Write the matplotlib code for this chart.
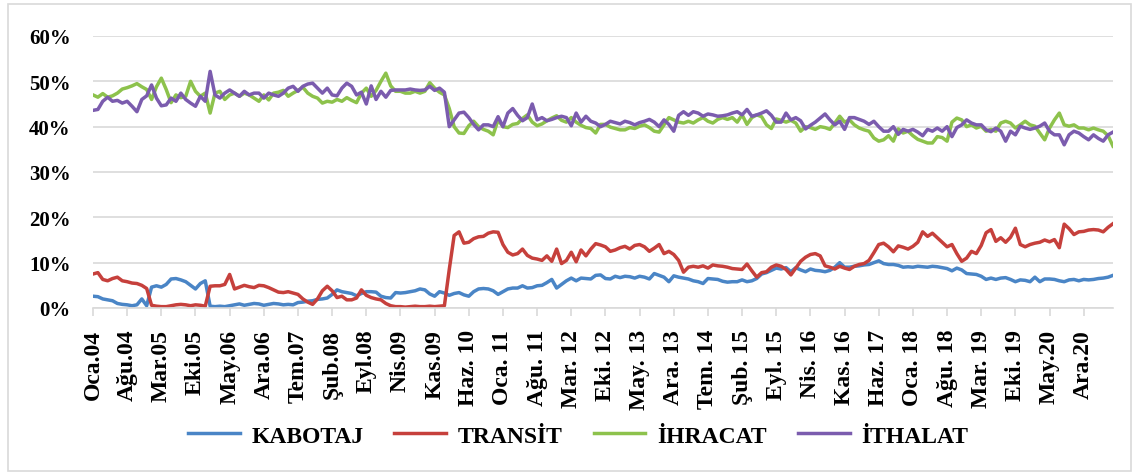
import numpy as np
import matplotlib.pyplot as plt

# monthly shares (%), Oca.04 .. Haz.21, one row per year
kabotaj = [
    2.6, 2.5, 2.0, 1.8, 1.6, 1.0, 0.8, 0.7, 0.5, 0.7, 2.0, 0.5,
    4.6, 4.9, 4.6, 5.2, 6.4, 6.5, 6.2, 5.8, 5.0, 4.2, 5.4, 6.0,
    0.4, 0.3, 0.4, 0.3, 0.5, 0.7, 0.9, 0.6, 0.8, 1.0, 0.9, 0.6,
    0.8, 1.0, 0.9, 0.7, 0.8, 0.7, 1.2, 1.3, 1.5, 1.6, 1.9, 2.0,
    2.2, 3.0, 4.0, 3.6, 3.4, 3.2, 2.7, 3.2, 3.6, 3.6, 3.5, 2.6,
    2.3, 2.2, 3.4, 3.3, 3.4, 3.6, 3.8, 4.2, 4.0, 3.1, 2.6, 3.6,
    3.3, 2.8, 3.2, 3.4, 2.9, 2.6, 3.6, 4.2, 4.3, 4.2, 3.8, 3.0,
    3.6, 4.2, 4.4, 4.4, 4.9, 4.4, 4.5, 4.9, 5.0, 5.6, 6.3, 4.4,
    5.2, 6.0, 6.6, 6.0, 6.6, 6.5, 6.4, 7.2, 7.3, 6.5, 6.4, 7.0,
    6.7, 7.0, 6.9, 6.6, 7.0, 6.8, 6.4, 7.6, 7.2, 6.8, 5.8, 7.1,
    6.8, 6.6, 6.4, 6.0, 5.8, 5.4, 6.5, 6.4, 6.3, 5.9, 5.7, 5.8,
    5.8, 6.2, 5.8, 6.0, 6.5, 7.5, 7.8, 8.3, 8.8, 8.6, 8.9, 8.0,
    8.9, 8.4, 8.0, 8.6, 8.3, 8.2, 8.0, 8.3, 9.0, 10.0, 9.0, 9.0,
    9.2, 9.3, 9.5, 9.6, 10.0, 10.4, 9.8, 9.6, 9.6, 9.4, 9.0, 9.1,
    9.0, 9.2, 9.1, 9.0, 9.2, 9.1, 8.9, 8.7, 8.2, 8.8, 8.4, 7.6,
    7.5, 7.4, 7.0, 6.3, 6.6, 6.3, 6.6, 6.7, 6.3, 5.8, 6.2, 6.1,
    5.8, 6.8, 5.8, 6.4, 6.4, 6.3, 6.0, 5.8, 6.2, 6.3, 6.0, 6.3,
    6.2, 6.3, 6.5, 6.6, 6.8, 7.2,
]

transit = [
    7.5, 7.8, 6.3, 6.0, 6.5, 6.8, 6.0, 5.8, 5.5, 5.4, 5.0, 4.3,
    0.6, 0.4, 0.3, 0.3, 0.5, 0.7, 0.8, 0.7, 0.5, 0.7, 0.6, 0.4,
    4.8, 4.9, 4.9, 5.2, 7.4, 4.2, 4.6, 5.0, 4.7, 4.5, 5.0, 4.9,
    4.5, 4.0, 3.5, 3.4, 3.6, 3.3, 3.0, 2.0, 1.3, 0.8, 2.0, 3.8,
    4.8, 3.8, 2.3, 2.6, 1.8, 1.8, 2.2, 4.0, 2.8, 2.3, 2.0, 1.8,
    1.0, 0.5, 0.3, 0.3, 0.2, 0.3, 0.4, 0.3, 0.3, 0.4, 0.3, 0.4,
    0.5, 8.5, 16.0, 16.8, 14.3, 14.5, 15.3, 15.7, 15.8, 16.5, 16.8, 16.7,
    14.0, 12.3, 11.7, 12.0, 13.0, 11.6, 11.0, 10.8, 10.5, 11.5, 10.3, 13.0,
    9.8, 10.5, 12.3, 10.2, 12.8, 11.5, 13.0, 14.2, 13.9, 13.5, 12.5, 12.8,
    13.3, 13.6, 13.0, 13.8, 14.0, 13.5, 12.5, 13.2, 14.0, 12.0, 12.5, 11.8,
    10.5, 7.9, 9.0, 9.2, 9.0, 9.3, 8.8, 9.5, 9.3, 9.2, 9.0, 8.7,
    8.6, 8.5, 9.7, 8.2, 6.8, 7.8, 8.0, 9.0, 9.5, 9.2, 8.5, 7.3,
    8.8, 10.3, 11.2, 11.8, 12.0, 11.5, 9.3, 9.0, 8.6, 9.2, 8.8, 8.5,
    9.2, 9.6, 9.8, 10.5, 12.2, 14.0, 14.3, 13.5, 12.4, 13.7, 13.4, 13.0,
    13.6, 14.5, 16.8, 15.8, 16.5, 15.5, 14.5, 13.5, 14.0, 12.0, 10.3, 11.0,
    12.5, 12.0, 13.8, 16.6, 17.3, 14.7, 15.5, 14.5, 15.6, 17.6, 14.0, 13.5,
    14.0, 14.3, 14.5, 15.0, 14.6, 15.1, 13.3, 18.5, 17.5, 16.2, 16.8, 16.9,
    17.2, 17.3, 17.2, 16.8, 17.8, 18.6,
]

ihracat = [
    47.0, 46.5, 47.3, 46.5, 46.8, 47.4, 48.3, 48.6, 49.0, 49.5, 48.8, 48.2,
    46.0, 48.8, 50.7, 48.2, 45.3, 47.0, 46.4, 46.7, 50.0, 47.8, 46.7, 47.4,
    43.0, 47.4, 47.8, 46.0, 47.0, 47.4, 46.7, 47.4, 47.0, 46.3, 45.6, 47.0,
    45.9, 47.4, 47.6, 48.0, 46.7, 47.4, 48.0, 48.7, 47.4, 46.7, 46.3, 45.2,
    45.6, 45.4, 46.0, 45.6, 46.4, 45.8, 45.3, 47.4, 48.5, 46.7, 48.0, 50.0,
    51.8, 49.0, 47.8, 47.8, 47.4, 47.4, 47.8, 47.4, 47.8, 49.7, 48.5, 47.6,
    47.0, 44.0, 40.0, 38.6, 38.5, 40.2, 41.2, 40.0, 39.4, 39.0, 38.2, 41.5,
    40.0, 39.8, 40.5, 40.7, 41.8, 42.6, 41.0, 40.2, 40.6, 41.3, 41.9, 42.4,
    41.4, 41.0, 42.0, 41.0, 40.3, 39.8, 39.6, 38.6, 40.5, 40.5, 39.9, 39.6,
    39.3, 39.3, 39.8, 39.6, 40.1, 40.4, 39.8, 39.0, 38.8, 40.4, 42.0, 41.5,
    41.0, 40.8, 41.2, 40.8, 41.5, 42.0, 41.2, 40.8, 41.6, 42.0, 41.6, 42.0,
    41.0, 42.6, 40.5, 42.0, 42.6, 42.2, 40.4, 39.6, 41.7, 41.4, 41.0, 41.4,
    40.8, 39.0, 40.0, 39.8, 39.4, 40.0, 39.8, 39.4, 40.8, 42.3, 41.0, 41.5,
    40.4, 39.7, 39.3, 39.0, 37.5, 36.8, 37.1, 38.0, 36.8, 39.5, 38.6, 39.0,
    38.0, 37.2, 36.8, 36.4, 36.4, 37.8, 37.6, 36.8, 41.0, 41.9, 41.5, 40.0,
    40.4, 39.7, 40.1, 39.0, 39.4, 39.0, 40.8, 41.2, 40.8, 39.7, 40.4, 41.2,
    40.4, 40.1, 38.6, 37.1, 39.7, 41.5, 43.0, 40.4, 40.1, 40.4, 39.7, 39.7,
    39.3, 39.7, 39.3, 39.0, 38.0, 35.7,
]

ithalat = [
    43.6, 43.8, 45.6, 46.5, 45.6, 45.8, 45.2, 45.6, 44.5, 43.3, 46.0, 46.8,
    49.2, 46.3, 44.6, 44.8, 46.3, 45.6, 47.4, 46.0, 45.2, 44.5, 46.7, 45.6,
    52.2, 47.0, 46.3, 47.4, 48.1, 47.4, 46.7, 47.8, 47.0, 47.4, 47.4, 46.3,
    47.4, 47.0, 46.7, 47.4, 48.5, 48.9, 47.8, 48.9, 49.4, 49.6, 48.5, 47.4,
    48.5, 47.0, 46.8, 48.5, 49.6, 48.9, 47.0, 47.6, 45.0, 49.0, 46.0, 47.8,
    46.5, 48.0, 48.1, 48.1, 48.1, 48.3, 48.1, 48.0, 48.1, 48.9, 48.0, 48.5,
    47.6, 40.0, 41.5, 43.0, 43.2, 42.0, 40.5, 39.3, 40.4, 40.4, 40.0, 42.2,
    40.0, 43.0, 44.0, 42.5, 41.3, 42.0, 45.0, 41.5, 42.0, 41.3, 41.6, 42.0,
    42.3, 42.0, 40.2, 43.0, 41.0, 42.3, 41.2, 40.8, 40.0, 40.5, 41.2, 40.9,
    40.6, 41.2, 40.9, 40.4, 40.9, 41.2, 41.6, 41.0, 40.0, 41.5, 40.5, 39.0,
    42.5, 43.3, 42.5, 43.3, 43.0, 42.3, 42.8, 42.6, 42.3, 42.4, 42.6, 43.0,
    43.3, 42.6, 43.8, 42.3, 42.6, 43.0, 43.5, 42.5, 41.0, 41.0, 43.0, 41.5,
    42.0, 41.3, 39.5, 40.3, 41.0, 41.9, 42.8, 41.5, 40.4, 41.2, 39.4, 42.0,
    42.0, 41.6, 41.2, 40.5, 41.2, 40.0, 39.0, 39.0, 40.0, 38.3, 39.4, 39.0,
    39.4, 38.8, 38.0, 39.4, 39.0, 39.7, 39.0, 40.0, 37.8, 39.8, 40.4, 41.5,
    40.8, 40.4, 40.4, 39.3, 38.9, 39.7, 39.0, 36.8, 39.0, 38.2, 40.1, 39.7,
    39.4, 39.7, 40.1, 40.8, 39.0, 38.2, 38.2, 36.0, 38.2, 39.0, 38.6, 37.8,
    37.1, 38.2, 37.4, 36.8, 38.2, 38.8,
]

tick_labels = [
    'Oca.04', 'Ağu.04', 'Mar.05', 'Eki.05', 'May.06', 'Ara.06', 'Tem.07',
    'Şub.08', 'Eyl.08', 'Nis.09', 'Kas.09', 'Haz. 10', 'Oca. 11', 'Ağu. 11',
    'Mar. 12', 'Eki. 12', 'May. 13', 'Ara. 13', 'Tem. 14', 'Şub. 15',
    'Eyl. 15', 'Nis. 16', 'Kas. 16', 'Haz. 17', 'Oca. 18', 'Ağu. 18',
    'Mar. 19', 'Eki. 19', 'May.20', 'Ara.20',
]
series_names = ['KABOTAJ', 'TRANSİT', 'İHRACAT', 'İTHALAT']
colors = ['#4A85C6', '#C6403C', '#8DC24C', '#7B5CAE']

plt.rcParams['font.family'] = ['Liberation Serif', 'DejaVu Serif']
plt.rcParams['font.weight'] = 'bold'

W, H = 1139, 477
fig = plt.figure(figsize=(W / 100, H / 100), dpi=100)
ax = fig.add_axes([93 / W, 1 - 309 / H, (1113 - 93) / W, (309 - 37) / H])

x = np.arange(len(kabotaj))
lines = []
for vals, name, c in zip([kabotaj, transit, ihracat, ithalat], series_names, colors):
    ln, = ax.plot(x, vals, color=c, lw=2.5, label=name, solid_joinstyle='round')
    lines.append(ln)

ax.set_xlim(0, len(x) - 1)
ax.set_ylim(0, 60)
ax.set_yticks(range(0, 61, 10))
ax.set_yticklabels([f'{v}%' for v in range(0, 61, 10)])
ax.set_xticks(np.arange(0, 7 * len(tick_labels), 7))
ax.set_xticklabels(tick_labels, rotation=90)

ax.yaxis.grid(True, color='#D9D9D9', lw=1.2)
ax.set_axisbelow(True)
for s in ['top', 'right', 'left']:
    ax.spines[s].set_visible(False)
ax.spines['bottom'].set_color('#D9D9D9')
ax.spines['bottom'].set_linewidth(1.2)

ax.tick_params(axis='y', length=0, pad=16, labelsize=15, colors='black')
ax.tick_params(axis='x', direction='out', length=6, width=1.2, color='#D9D9D9',
               pad=9, labelsize=17, labelcolor='black')

fig.legend(lines, series_names, loc='center', bbox_to_anchor=(578 / W, 1 - 437 / H),
           ncol=4, frameon=False, handlelength=2.2, handletextpad=0.5,
           columnspacing=1.3, prop={'weight': 'bold', 'size': 17})

# light outer frame
fig.patches.append(plt.Rectangle((8 / W, 5 / H), (1131 - 8) / W, (472 - 5) / H,
                                 transform=fig.transFigure, fill=False,
                                 edgecolor='#D9D9D9', lw=1.2))

fig.savefig('out.png', dpi=100)
